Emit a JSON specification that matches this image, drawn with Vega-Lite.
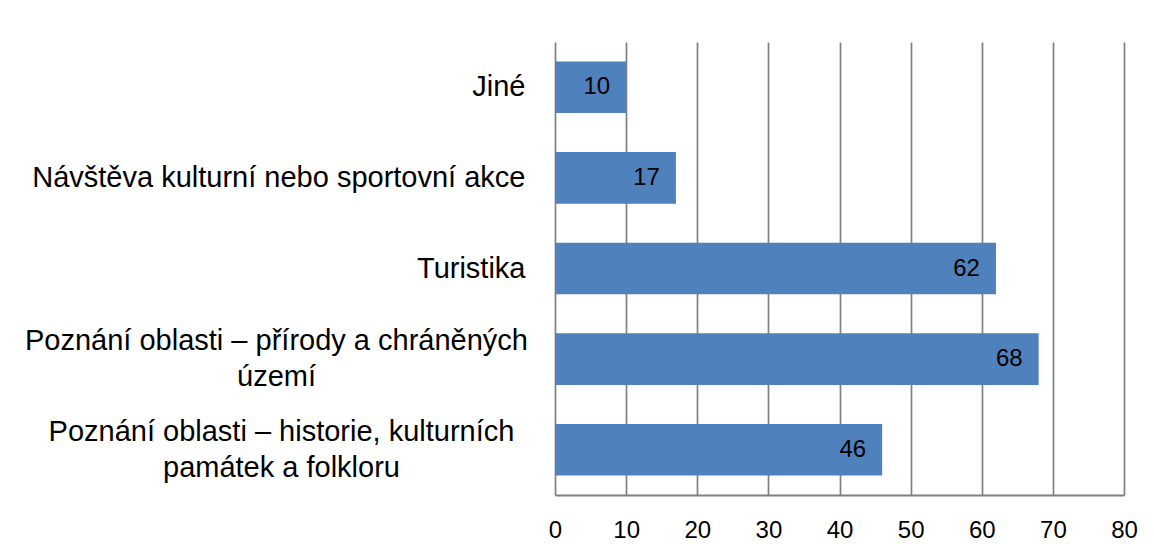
{
  "$schema": "https://vega.github.io/schema/vega-lite/v6.json",
  "autosize": {"type": "none"},
  "padding": {"left": 555, "top": 42, "right": 30, "bottom": 58},
  "width": 569,
  "height": 453,
  "background": "white",
  "config": {"view": {"stroke": null}, "font": "Liberation Sans"},
  "data": {
    "values": [
      {"category": "Jiné", "value": 10},
      {"category": "Návštěva kulturní nebo sportovní akce", "value": 17},
      {"category": "Turistika", "value": 62},
      {"category": "Poznání oblasti – přírody a chráněných území", "value": 68},
      {"category": "Poznání oblasti – historie, kulturních památek a folkloru", "value": 46}
    ]
  },
  "encoding": {
    "y": {
      "field": "category",
      "type": "nominal",
      "sort": null,
      "scale": {"paddingInner": 0.43, "paddingOuter": 0.215},
      "axis": {
        "title": null,
        "domain": false,
        "ticks": false,
        "tickSize": 0,
        "labelFont": "Liberation Sans",
        "labelFontSize": 29,
        "labelColor": "black",
        "labelLimit": 0,
        "labelLineHeight": 36,
        "labelBaseline": "middle",
        "labelAlign": {"condition": {"test": "indexof(datum.value, 'Poznání') == 0", "value": "center"}, "value": "right"},
        "labelOffset": {"condition": {"test": "indexof(datum.value, 'Poznání') == 0", "value": -18}, "value": 0},
        "labelPadding": {"condition": [
          {"test": "indexof(datum.value, 'přírody') > 0", "value": 279},
          {"test": "indexof(datum.value, 'historie') > 0", "value": 274}
        ], "value": 30},
        "labelExpr": "indexof(datum.value, 'přírody') > 0 ? ['Poznání oblasti – přírody a chráněných', 'území'] : indexof(datum.value, 'historie') > 0 ? ['Poznání oblasti – historie, kulturních', 'památek a folkloru'] : datum.value"
      }
    },
    "x": {
      "field": "value",
      "type": "quantitative",
      "scale": {"domain": [0, 80], "nice": false},
      "axis": {
        "title": null,
        "values": [0, 10, 20, 30, 40, 50, 60, 70, 80],
        "grid": true,
        "gridColor": "#808080",
        "gridWidth": 1.7,
        "domainColor": "#808080",
        "domainWidth": 2,
        "ticks": false,
        "tickSize": 0,
        "labelFont": "Liberation Sans",
        "labelFontSize": 24,
        "labelColor": "black",
        "labelPadding": 23,
        "labelFlush": false
      }
    }
  },
  "layer": [
    {"mark": {"type": "bar", "color": "#4F81BD"}},
    {
      "mark": {"type": "text", "align": "right", "baseline": "middle", "dx": -16, "fontSize": 24, "font": "Liberation Sans", "color": "black"},
      "encoding": {"text": {"field": "value", "type": "quantitative"}}
    }
  ]
}
